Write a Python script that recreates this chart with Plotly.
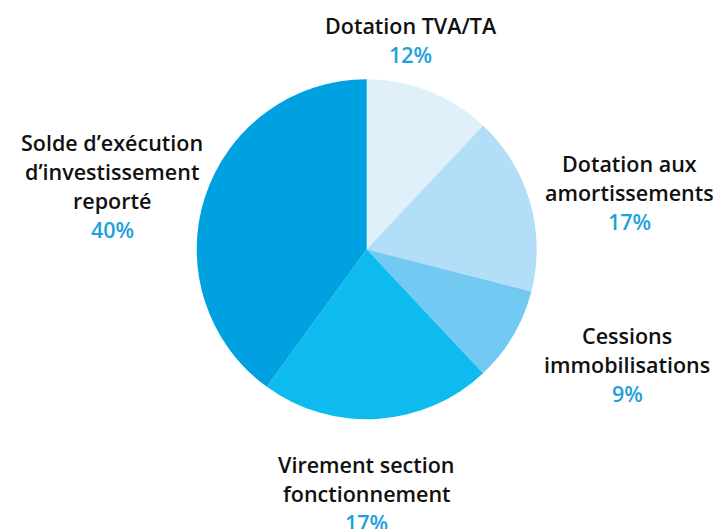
import plotly.graph_objects as go

categories = ["Dotation TVA/TA", "Dotation aux amortissements", "Cessions immobilisations",
              "Virement section fonctionnement", "Solde d’exécution d’investissement reporté"]
values = [12, 17, 9, 22, 40]
pct_labels = ["12%", "17%", "9%", "17%", "40%"]
label_lines = [["Dotation TVA/TA"],
               ["Dotation aux", "amortissements"],
               ["Cessions", "immobilisations"],
               ["Virement section", "fonctionnement"],
               ["Solde d’exécution", "d’investissement", "reporté"]]
colors = ["#dff0fb", "#b2dff7", "#72c9f2", "#0ebbee", "#00a1e0"]

OFF = 8  # page body margin
W, H = 721 - OFF, 529 - OFF


def px_x(x):
    return (x - OFF) / W


def px_y(y):
    return 1 - (y - OFF) / H


fig = go.Figure(go.Pie(
    labels=categories, values=values, sort=False, direction="clockwise", rotation=0,
    marker=dict(colors=colors, line=dict(width=0)), textinfo="none", hoverinfo="label+percent",
    domain=dict(x=[px_x(196.7), px_x(536.7)], y=[px_y(419.3), px_y(79.3)]),
    showlegend=False,
))

# label anchor (center x, first line y) in pixels
anchors = [(411, 25), (629, 163), (627, 335), (367, 464), (112, 142)]
step = 29
annotations = []
for (cx, y0), lines, pct in zip(anchors, label_lines, pct_labels):
    for i, t in enumerate(lines + [pct]):
        is_pct = i == len(lines)
        annotations.append(dict(
            x=px_x(cx), y=px_y(y0 + i * step), xref="paper", yref="paper",
            text=t, showarrow=False, xanchor="center", yanchor="middle",
            font=dict(family="Open Sans", size=21.5, weight=600,
                      color="#1ea0dc" if is_pct else "#111111"),
        ))

fig.update_layout(width=W, height=H, margin=dict(l=0, r=0, t=0, b=0),
                  paper_bgcolor="white", plot_bgcolor="white", annotations=annotations)
fig.write_html("out.html")
